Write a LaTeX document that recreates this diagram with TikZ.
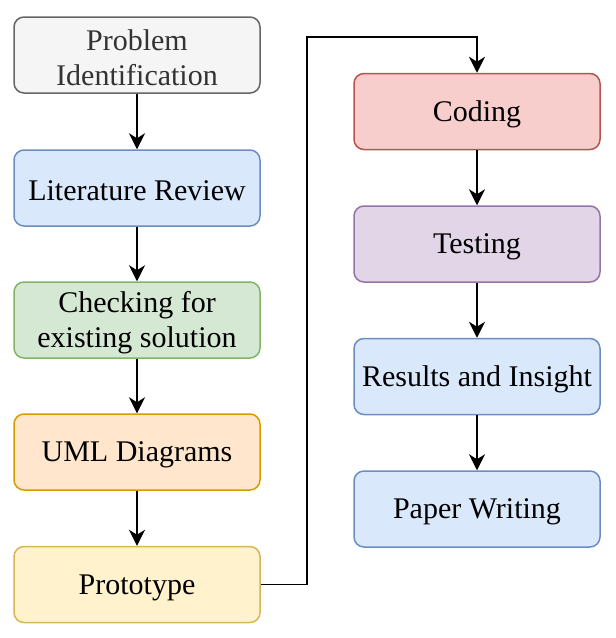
\documentclass[tikz,border=0pt]{standalone}
\usepackage{fontspec}
\setmainfont{Liberation Serif}
\usetikzlibrary{arrows.meta}
\definecolor{grayF}{HTML}{F5F5F5}\definecolor{grayS}{HTML}{666666}\definecolor{grayT}{HTML}{333333}
\definecolor{blueF}{HTML}{DAE8FC}\definecolor{blueS}{HTML}{6C8EBF}
\definecolor{greenF}{HTML}{D5E8D4}\definecolor{greenS}{HTML}{82B366}
\definecolor{orangeF}{HTML}{FFE6CC}\definecolor{orangeS}{HTML}{D79B00}
\definecolor{yellowF}{HTML}{FFF2CC}\definecolor{yellowS}{HTML}{D6B656}
\definecolor{redF}{HTML}{F8CECC}\definecolor{redS}{HTML}{B85450}
\definecolor{purpleF}{HTML}{E1D5E7}\definecolor{purpleS}{HTML}{9673A6}
\tikzset{
  box/.style={draw, rounded corners=10pt, line width=1.5pt, minimum width=246pt, minimum height=76pt,
    inner sep=2pt, align=center, font=\fontsize{30}{35}\selectfont},
  lbl/.style={inner sep=0pt, align=center, font=\fontsize{30}{35}\selectfont, yshift=-3pt},
  arr/.style={line width=1.5pt, -{Stealth[length=16pt, width=16pt, inset=5pt]}},
}
\begin{document}
\begin{tikzpicture}[x=1pt,y=-1pt]
\useasboundingbox (0,0) rectangle (616,638);
\node[box, fill=grayF, draw=grayS] (p1) at (137,55) {};
\node[lbl, text=grayT] at (p1) {Problem\\Identification};
\node[box, fill=blueF, draw=blueS] (p2) at (137,188) {};
\node[lbl] at (p2) {Literature Review};
\node[box, fill=greenF, draw=greenS] (p3) at (137,320) {};
\node[lbl] at (p3) {Checking for\\existing solution};
\node[box, fill=orangeF, draw=orangeS] (p4) at (137,452) {};
\node[lbl] at (p4) {UML Diagrams};
\node[box, fill=yellowF, draw=yellowS] (p5) at (137,584.5) {};
\node[lbl] at (p5) {Prototype};
\node[box, fill=redF, draw=redS] (c1) at (477,111.5) {};
\node[lbl] at (c1) {Coding};
\node[box, fill=purpleF, draw=purpleS] (c2) at (477,244) {};
\node[lbl] at (c2) {Testing};
\node[box, fill=blueF, draw=blueS] (c3) at (477,376.5) {};
\node[lbl] at (c3) {Results and Insight};
\node[box, fill=blueF, draw=blueS] (c4) at (477,509) {};
\node[lbl] at (c4) {Paper Writing};
\coordinate (turn) at (307,37);
\draw[arr] (p1) -- (p2);
\draw[arr] (p2) -- (p3);
\draw[arr] (p3) -- (p4);
\draw[arr] (p4) -- (p5);
\draw[arr] (p5.east) -| (turn) -| (c1.north);
\draw[arr] (c1) -- (c2);
\draw[arr] (c2) -- (c3);
\draw[arr] (c3) -- (c4);
\end{tikzpicture}
\end{document}
